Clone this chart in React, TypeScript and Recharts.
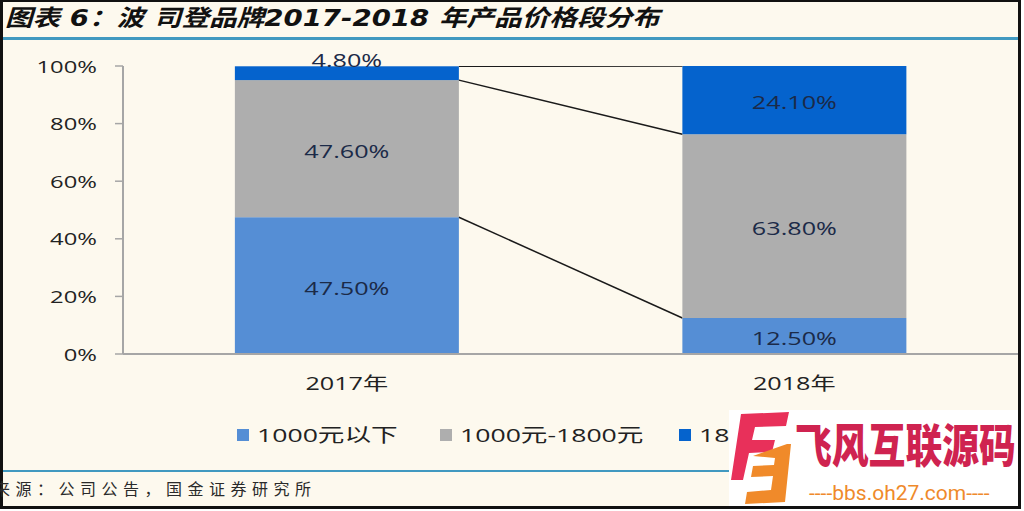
import React from "react";
import { BarChart, Bar, XAxis, YAxis, LabelList } from "recharts";

const categories = ["2017年", "2018年"];
const seriesNames = ["1000元以下", "1000元-1800元", "1800元以上"];
const below1000 = [47.5, 12.5];
const mid1000to1800 = [47.6, 63.8];
const above1800 = [4.8, 24.1];
const yTicks = [0, 20, 40, 60, 80, 100];
const colors = ["#558ED5", "#AEAEAE", "#0563CD"];
const keys = ["s1", "s2", "s3"];

const data = categories.map((c, i) => ({
  name: c,
  s1: below1000[i],
  s2: mid1000to1800[i],
  s3: above1800[i],
}));

const SX = 1.4;
const LATIN = "'Open Sans', 'Noto Sans CJK SC', sans-serif";

const edges: Record<string, { x: number; y: number }> = {};

function makeShape(key: string) {
  return (props: any) => {
    const { x, y, width, height, fill, index } = props;
    let line: React.ReactNode = null;
    if (index === 0) {
      edges[key] = { x: x + width, y };
    } else if (edges[key]) {
      line = (
        <line
          x1={edges[key].x}
          y1={edges[key].y}
          x2={x}
          y2={y}
          stroke="#1a1a1a"
          strokeWidth={1.5}
        />
      );
    }
    return (
      <g>
        <rect x={x} y={y} width={width} height={height} fill={fill} />
        {line}
      </g>
    );
  };
}

const YTick = (props: any) => {
  const { x, y, payload } = props;
  return (
    <g transform={`translate(${x},${y})`}>
      <text
        textAnchor="end"
        dominantBaseline="central"
        transform={`scale(${SX},1)`}
        fontSize={17}
        fill="#222"
        fontFamily={LATIN}
      >
        {payload.value}%
      </text>
    </g>
  );
};

const XTick = (props: any) => {
  const { x, y, payload } = props;
  return (
    <g transform={`translate(${x},${y})`}>
      <text
        textAnchor="middle"
        dominantBaseline="central"
        transform={`scale(${SX},1)`}
        fontSize={18}
        fill="#222"
        fontFamily={LATIN}
      >
        {payload.value}
      </text>
    </g>
  );
};

const SegLabel = (props: any) => {
  const { x, y, width, height, value } = props;
  const cx = x + width / 2;
  const cy = height < 20 ? y - 6 : y + height / 2 + 2;
  return (
    <g transform={`translate(${cx},${cy})`}>
      <text
        textAnchor="middle"
        dominantBaseline="central"
        transform={`scale(${SX},1)`}
        fontSize={18}
        fill="#1B2A48"
        fontFamily={LATIN}
      >
        {Number(value).toFixed(2)}%
      </text>
    </g>
  );
};

const legendPos = [237, 440, 679];

export default function App() {
  return (
    <div
      style={{
        position: "absolute",
        left: 0,
        top: 0,
        width: 1024,
        height: 511,
        background: "#ffffff",
        overflow: "hidden",
      }}
    >
      <div
        style={{
          position: "absolute",
          left: 0,
          top: 0,
          width: 1021,
          height: 509,
          background: "#FDF9EE",
          border: "3px solid #111",
          borderTopWidth: 2,
          boxSizing: "border-box",
        }}
      />
      {/* title */}
      <div
        style={{
          position: "absolute",
          left: 5,
          top: 3,
          fontSize: 23,
          fontWeight: 700,
          fontStyle: "italic",
          color: "#111",
          fontFamily: "'DejaVu Sans', 'Noto Sans CJK SC', sans-serif",
          whiteSpace: "nowrap",
          transformOrigin: "left top",
          transform: "scale(1.2,1)",
          lineHeight: "30px",
        }}
      >
        图表 6：波 司登品牌2017-2018 年产品价格段分布
      </div>
      <div
        style={{
          position: "absolute",
          left: 3,
          top: 37,
          width: 1015,
          height: 3,
          background: "#4199C0",
        }}
      />
      <div
        style={{
          position: "absolute",
          left: 3,
          top: 470,
          width: 1015,
          height: 2,
          background: "#4199C0",
        }}
      />
      <div
        style={{
          position: "absolute",
          left: -6,
          top: 476,
          fontSize: 16,
          letterSpacing: 5.5,
          color: "#2a2a2a",
          fontFamily: "'Noto Sans CJK SC', sans-serif",
          whiteSpace: "nowrap",
          lineHeight: "24px",
        }}
      >
        来源：公司公告，国金证券研究所
      </div>

      <div style={{ position: "absolute", left: 0, top: 0 }}>
        <BarChart
          width={1024}
          height={511}
          data={data}
          margin={{ top: 66, right: 6, bottom: 127, left: 0 }}
          barCategoryGap="25%"
        >
          <XAxis
            dataKey="name"
            height={30}
            tickLine={false}
            tickSize={0}
            tickMargin={29}
            axisLine={{ stroke: "#A6A6A6", strokeWidth: 2 }}
            tick={<XTick />}
            interval={0}
          />
          <YAxis
            width={123}
            domain={[0, 100]}
            allowDataOverflow
            ticks={yTicks}
            tickSize={8}
            tickMargin={18}
            tickLine={{ stroke: "#A6A6A6", strokeWidth: 1.5 }}
            axisLine={{ stroke: "#A6A6A6", strokeWidth: 2 }}
            tick={<YTick />}
          />
          {keys.map((k, i) => (
            <Bar
              key={k}
              dataKey={k}
              name={seriesNames[i]}
              stackId="a"
              fill={colors[i]}
              isAnimationActive={false}
              shape={makeShape(k)}
            >
              <LabelList dataKey={k} content={<SegLabel />} />
            </Bar>
          ))}
        </BarChart>
      </div>

      {/* legend */}
      {seriesNames.map((n, i) => (
        <div
          key={n}
          style={{
            position: "absolute",
            left: legendPos[i],
            top: 423,
            height: 24,
            display: "flex",
            alignItems: "center",
            whiteSpace: "nowrap",
          }}
        >
          <div
            style={{
              width: 12,
              height: 12,
              background: colors[i],
              marginRight: 8,
            }}
          />
          <div
            style={{
              fontSize: 19,
              color: "#222",
              fontFamily: LATIN,
              transformOrigin: "left center",
              transform: `scale(${SX},1)`,
              lineHeight: "24px",
            }}
          >
            {n}
          </div>
        </div>
      ))}

      {/* watermark overlay */}
      <div
        style={{
          position: "absolute",
          left: 729,
          top: 410,
          width: 289,
          height: 96,
          background: "#ffffff",
        }}
      >
        <svg width={70} height={96} style={{ position: "absolute", left: 2, top: 0 }}>
          <polygon points="10,4 58,2 55,16 24,17 21,30 44,30 41,42 18,43 12,70 0,70" fill="#E8305A" />
          <polygon points="22,46 56,34 60,34 54,92 14,94 16,82 40,80 42,66 20,67 22,56 43,55 44,48" fill="#F08A2A" />
        </svg>
        <div
          style={{
            position: "absolute",
            left: 66,
            top: 2,
            fontSize: 46,
            fontWeight: 900,
            color: "#CF2350",
            fontFamily: "'Noto Sans CJK SC', sans-serif",
            whiteSpace: "nowrap",
            transformOrigin: "left top",
            transform: "scale(0.8,1)",
            lineHeight: "60px",
          }}
        >
          飞风互联源码
        </div>
        <div
          style={{
            position: "absolute",
            left: 80,
            top: 70,
            fontSize: 21,
            color: "#EF8A2B",
            fontFamily: "Roboto, sans-serif",
            whiteSpace: "nowrap",
            lineHeight: "26px",
          }}
        >
          ----bbs.oh27.com----
        </div>
      </div>
    </div>
  );
}
